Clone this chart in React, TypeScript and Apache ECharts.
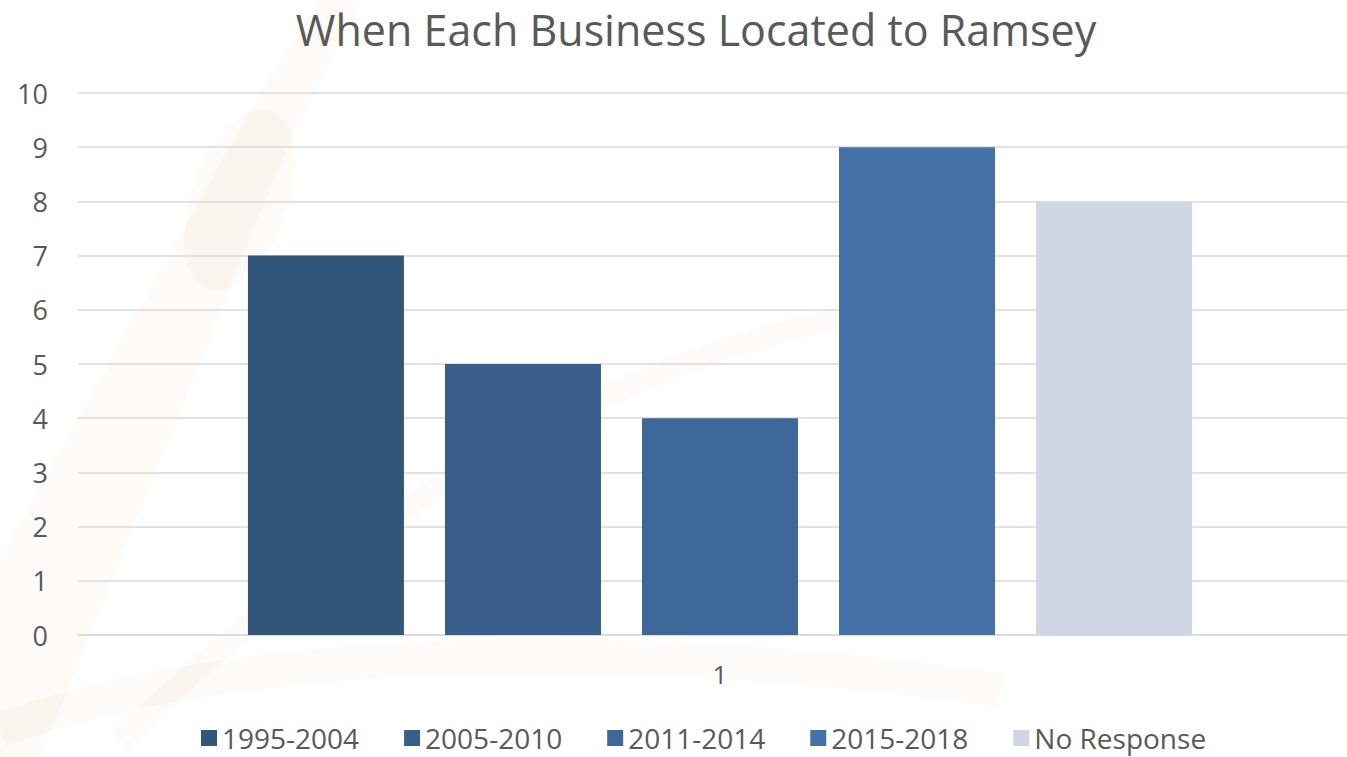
import React, { useEffect, useRef } from "react";
import * as echarts from "echarts";

const title = "When Each Business Located to Ramsey";
const categories = ["1"];
const seriesNames = ["1995-2004", "2005-2010", "2011-2014", "2015-2018", "No Response"];
const seriesValues = [7, 5, 4, 9, 8];
const seriesColors = ["#32557a", "#385e8a", "#3d6699", "#4471a7", "#cfd7e6"];

const FONT = "'Open Sans', 'Noto Sans', sans-serif";

export default function App() {
  const ref = useRef<HTMLDivElement>(null);
  useEffect(() => {
    if (!ref.current) return;
    const chart = echarts.init(ref.current, undefined, { renderer: "svg" });
    const wm = "rgba(235, 210, 185, 0.11)";
    chart.setOption({
      animation: false,
      backgroundColor: "#ffffff",
      textStyle: { fontFamily: FONT },
      graphic: [
        {
          type: "polygon",
          silent: true,
          z: -10,
          shape: { points: [[0, 560], [250, 110], [320, 0], [360, 0], [290, 140], [40, 757], [0, 757]] },
          style: { fill: wm },
        },
        {
          type: "ellipse",
          silent: true,
          z: -10,
          shape: { cx: 240, cy: 200, rx: 48, ry: 95 },
          rotation: -0.35,
          originX: 240,
          originY: 200,
          style: { fill: wm },
        },
        {
          type: "bezierCurve",
          silent: true,
          z: -10,
          shape: { x1: 0, y1: 730, x2: 1000, y2: 690, cpx1: 250, cpy1: 640, cpx2: 650, cpy2: 640 },
          style: { stroke: wm, lineWidth: 34, fill: "none" },
        },
        {
          type: "bezierCurve",
          silent: true,
          z: -10,
          shape: { x1: 120, y1: 740, x2: 880, y2: 310, cpx1: 350, cpy1: 520, cpx2: 600, cpy2: 360 },
          style: { stroke: wm, lineWidth: 22, fill: "none" },
        },
      ],
      title: {
        text: title,
        left: 691,
        textAlign: "center",
        top: 3,
        textStyle: { color: "#595959", fontSize: 43, fontWeight: "normal", fontFamily: FONT },
      },
      legend: {
        bottom: 0,
        left: 196,
        itemWidth: 16,
        itemHeight: 16,
        itemGap: 45,
        icon: "rect",
        textStyle: { color: "#595959", fontSize: 28, fontFamily: FONT },
        data: seriesNames,
      },
      grid: {
        left: 78,
        width: 1284,
        top: 93,
        bottom: 122,
        containLabel: false,
        outerBoundsMode: "none",
      },
      xAxis: {
        type: "category",
        data: categories,
        axisLine: { show: true, lineStyle: { color: "#d9d9d9", width: 1.5 } },
        axisTick: { show: false },
        axisLabel: { color: "#595959", fontSize: 26, margin: 26, fontFamily: FONT },
      },
      yAxis: {
        type: "value",
        min: 0,
        max: 10,
        interval: 1,
        axisLine: { show: false },
        axisTick: { show: false },
        splitLine: { lineStyle: { color: "#d9d9d9", width: 1.5 } },
        axisLabel: { color: "#595959", fontSize: 27, margin: 30, fontFamily: FONT },
      },
      series: seriesNames.map((name, i) => ({
        name,
        type: "bar",
        data: [seriesValues[i]],
        barWidth: 156,
        barGap: "26.3%",
        itemStyle: { color: seriesColors[i] },
      })),
    });
    return () => chart.dispose();
  }, []);
  return (
    <div
      ref={ref}
      style={{ position: "fixed", left: 0, top: 0, width: 1347, height: 757 }}
    />
  );
}
